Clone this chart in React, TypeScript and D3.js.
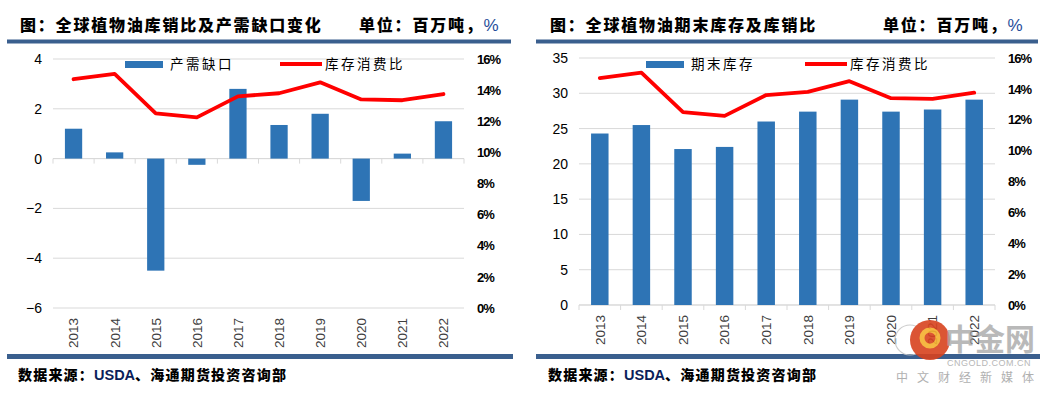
import React from "react";
import * as d3 from "d3";

const years = ["2013", "2014", "2015", "2016", "2017", "2018", "2019", "2020", "2021", "2022"];
const gapValues = [1.2, 0.25, -4.5, -0.25, 2.8, 1.35, 1.8, -1.7, 0.2, 1.5];
const stockValues = [24.3, 25.5, 22.1, 22.4, 26.0, 27.4, 29.1, 27.4, 27.7, 29.1];
const ratioValues = [14.7, 15.05, 12.5, 12.25, 13.6, 13.8, 14.5, 13.4, 13.35, 13.75];
const gapTicks = [4, 2, 0, -2, -4, -6];
const stockTicks = [35, 30, 25, 20, 15, 10, 5, 0];
const pctTicks = [16, 14, 12, 10, 8, 6, 4, 2, 0];

const BLUE = "#2E74B5";
const RED = "#FF0000";
const HEAD = "#3A5F8E";
const CJK = '"Noto Sans CJK SC", "Noto Sans", sans-serif';
const LAT = '"Liberation Sans", Arial, sans-serif';

type PanelProps = {
  ox: number;
  title: string;
  barName: string;
  bars: number[];
  leftDomain: [number, number];
  leftTicks: number[];
  top: number;
  bottom: number;
  plotL: number;
  plotR: number;
  legBarX: number;
  legLineX: number;
  headL: number;
  headR: number;
  unitX: number;
  srcX: number;
};

function Panel(p: PanelProps) {
  const x = d3.scaleBand<string>().domain(years).range([p.plotL, p.plotR]).paddingInner(0).paddingOuter(0);
  const yL = d3.scaleLinear().domain(p.leftDomain).range([p.bottom, p.top]);
  const yR = d3.scaleLinear().domain([0, 16]).range([p.bottom, p.top]);
  const bw = x.bandwidth() * 0.42;
  const zeroY = yL(0);
  const line = d3
    .line<number>()
    .x((_, i) => (x(years[i]) as number) + x.bandwidth() / 2)
    .y((d) => yR(d));
  const tickXs = years.map((y) => x(y) as number).concat([p.plotR]);
  return (
    <g>
      {/* title */}
      <text x={p.ox} y={31} fontFamily={CJK} fontWeight={900} fontSize={16} letterSpacing={1.8} fill="#000">
        {p.title}
      </text>
      <text x={p.unitX} y={31} fontFamily={CJK} fontWeight={900} fontSize={16} letterSpacing={1.8} fill="#000">
        单位：百万吨，<tspan fill="#1F4E9A" fontFamily={LAT} fontWeight={400} fontSize={17}>%</tspan>
      </text>
      <rect x={p.headL} y={39.5} width={p.headR - p.headL} height={4} fill={HEAD} />
      {/* gridlines */}
      {p.leftTicks.map((t) => (
        <line key={"g" + t} x1={p.plotL} x2={p.plotR} y1={yL(t)} y2={yL(t)} stroke="#D9D9D9" strokeWidth={1} />
      ))}
      {/* axis line */}
      <line x1={p.plotL} x2={p.plotR} y1={zeroY} y2={zeroY} stroke="#D9D9D9" strokeWidth={1} />
      {tickXs.map((tx, i) => (
        <line key={"t" + i} x1={tx} x2={tx} y1={zeroY} y2={zeroY + 5} stroke="#D9D9D9" strokeWidth={1} />
      ))}
      {/* bars */}
      {p.bars.map((v, i) => {
        const cx = (x(years[i]) as number) + x.bandwidth() / 2;
        const y0 = yL(Math.max(0, v));
        const y1 = yL(Math.min(0, v));
        return <rect key={"b" + i} x={cx - bw / 2} y={y0} width={bw} height={y1 - y0} fill={BLUE} />;
      })}
      {/* line */}
      <path d={line(ratioValues) || ""} fill="none" stroke={RED} strokeWidth={3.8} strokeLinejoin="round" strokeLinecap="round" />
      {/* left ticks */}
      {p.leftTicks.map((t) => (
        <text key={"l" + t} x={p.plotL - 11} y={yL(t)} dy="0.36em" textAnchor="end" fontFamily={LAT} fontSize={14} fill="#000">
          {t < 0 ? "\u2212" + Math.abs(t) : String(t)}
        </text>
      ))}
      {/* right ticks */}
      {pctTicks.map((t) => (
        <text key={"r" + t} x={p.plotR + 13} y={yR(t)} dy="0.36em" fontFamily={LAT} fontWeight={700} fontSize={13} letterSpacing={-1} fill="#000">
          {t + "%"}
        </text>
      ))}
      {/* x labels */}
      {years.map((yv) => {
        const cx = (x(yv) as number) + x.bandwidth() / 2;
        return (
          <text
            key={"x" + yv}
            transform={`translate(${cx},${p.bottom + 10}) rotate(-90)`}
            textAnchor="end"
            dy="0.36em"
            fontFamily={LAT}
            fontSize={13.5}
            fill="#404040"
          >
            {yv}
          </text>
        );
      })}
      {/* legend */}
      <rect x={p.legBarX} y={61} width={38} height={7} fill={BLUE} />
      <text x={p.legBarX + 45} y={64.5} dy="0.36em" fontFamily={CJK} fontSize={13.5} letterSpacing={2.5} fill="#000">
        {p.barName}
      </text>
      <line x1={p.legLineX} x2={p.legLineX + 42} y1={64} y2={64} stroke={RED} strokeWidth={3.8} />
      <text x={p.legLineX + 45} y={64.5} dy="0.36em" fontFamily={CJK} fontSize={13.5} letterSpacing={2.5} fill="#000">
        库存消费比
      </text>
      {/* bottom rule */}
      <rect x={p.headL} y={354} width={p.headR - p.headL + 2} height={5} fill={HEAD} />
      <text x={p.srcX} y={380} fontFamily={CJK} fontWeight={900} fontSize={14} letterSpacing={1.2} fill="#000">
        数据来源：<tspan fontFamily={LAT} fontWeight={700} fill="#0B1E5B" fontSize={14.5} letterSpacing={0}>USDA</tspan>、海通期货投资咨询部
      </text>
    </g>
  );
}

export default function App() {
  return (
    <svg width={1049} height={393} style={{ position: "absolute", left: 0, top: 0, background: "#fff" }}>
      <rect width={1049} height={393} fill="#fff" />
      <Panel
        ox={20}
        title="图：全球植物油库销比及产需缺口变化"
        barName="产需缺口"
        bars={gapValues}
        leftDomain={[-6, 4]}
        leftTicks={gapTicks}
        top={59}
        bottom={308}
        plotL={53}
        plotR={464}
        legBarX={125}
        legLineX={280}
        headL={7}
        headR={511}
        unitX={359}
        srcX={18}
      />
      <Panel
        ox={550}
        title="图：全球植物油期末库存及库销比"
        barName="期末库存"
        bars={stockValues}
        leftDomain={[0, 35]}
        leftTicks={stockTicks}
        top={58}
        bottom={305}
        plotL={579}
        plotR={995}
        legBarX={646}
        legLineX={805}
        headL={536}
        headR={1038}
        unitX={883}
        srcX={548}
      />
      {/* watermark */}
      <g opacity={0.9}>
        <circle cx={910} cy={340} r={15} fill="none" stroke="#C8C8C8" strokeWidth={1.2} />
        <circle cx={930} cy={340} r={20} fill="#D8431F" />
        <circle cx={930} cy={338} r={8} fill="none" stroke="#F5B02E" strokeWidth={5} />
        <text x={945} y={350} fontFamily={CJK} fontWeight={700} fontSize={30} fill="#A0A0A0" opacity={0.8}>
          中金网
        </text>
        <text x={947} y={366} fontFamily={LAT} fontSize={9} letterSpacing={0.5} fill="#B0B0B0">
          CNGOLD.COM.CN
        </text>
        <text x={896} y={382} fontFamily={CJK} fontSize={12} letterSpacing={9} fill="#A8A8A8">
          中文财经新媒体
        </text>
      </g>
    </svg>
  );
}
